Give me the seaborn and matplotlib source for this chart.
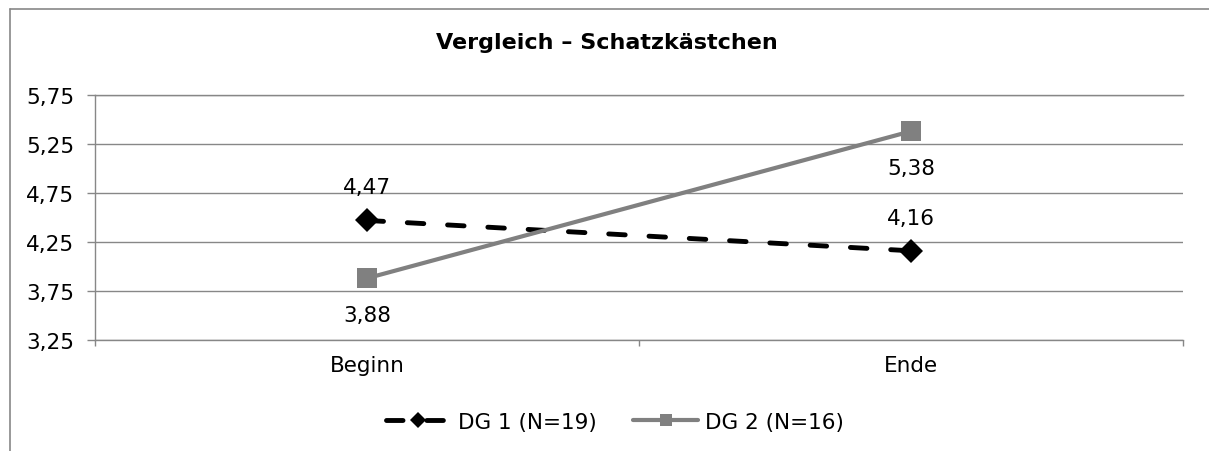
import matplotlib
matplotlib.use("Agg")
import matplotlib.pyplot as plt
from matplotlib.lines import Line2D
import pandas as pd
import seaborn as sns

# --- data -------------------------------------------------------------
categories = ["Beginn", "Ende"]
dg1_values = [4.47, 4.16]
dg2_values = [3.88, 5.38]
series_names = ["DG 1 (N=19)", "DG 2 (N=16)"]
y_ticks = [3.25, 3.75, 4.25, 4.75, 5.25, 5.75]
y_tick_labels = ["3,25", "3,75", "4,25", "4,75", "5,25", "5,75"]
title = "Vergleich \u2013 Schatzk\u00e4stchen"

# --- style ------------------------------------------------------------
sns.set_style("white")
plt.rcParams["font.family"] = ["DejaVu Sans"]
plt.rcParams["text.color"] = "black"
FS = 15.5
GRID = "#878787"
GREY = "#808080"

W, H = 1209, 452
fig = plt.figure(figsize=(W / 100, H / 100), dpi=100)
ax = fig.add_axes([95 / W, (H - 341) / H, (1183 - 95) / W, (341 - 96) / H])

df1 = pd.DataFrame({"Zeitpunkt": categories, "Wert": dg1_values})
df2 = pd.DataFrame({"Zeitpunkt": categories, "Wert": dg2_values})

sns.lineplot(data=df1, x="Zeitpunkt", y="Wert", ax=ax, color="black",
             linewidth=3.5, marker="D", markersize=12.7, markeredgewidth=0,
             label=series_names[0], zorder=3)
sns.lineplot(data=df2, x="Zeitpunkt", y="Wert", ax=ax, color=GREY,
             linewidth=3.0, marker="s", markersize=14, markeredgewidth=0,
             label=series_names[1], zorder=4)

# long-dash pattern for DG 1 (on/off in multiples of the line width)
dash_line = ax.lines[0]
dash_line.set_linestyle((0, (3.4, 4.9)))
dash_line.set_dash_capstyle("round")

handles, labels = ax.get_legend_handles_labels()
if ax.get_legend() is not None:
    ax.get_legend().remove()

# --- axes -------------------------------------------------------------
ax.set_xlim(-0.5, len(categories) - 0.5)
ax.set_ylim(y_ticks[0], y_ticks[-1])
ax.set_xlabel("")
ax.set_ylabel("")
ax.set_yticks(y_ticks, labels=y_tick_labels)
ax.set_xticks(range(len(categories)), labels=categories)
ax.set_xticks([-0.5, 0.5, 1.5], minor=True)

ax.yaxis.grid(True, color=GRID, linewidth=1.0)
ax.xaxis.grid(False)
ax.set_axisbelow(True)
for side in ["top", "bottom", "left"]:
    ax.spines[side].set_visible(True)
    ax.spines[side].set_color(GRID)
    ax.spines[side].set_linewidth(1.0)
ax.spines["right"].set_visible(False)

ax.tick_params(axis="y", left=True, length=5.5, width=1.0, color=GRID,
               direction="out", pad=9.4, labelsize=FS, labelcolor="black")
ax.tick_params(axis="x", which="major", length=0, pad=11, labelsize=FS,
               labelcolor="black")
ax.tick_params(axis="x", which="minor", bottom=True, length=4.5, width=1.0,
               color=GRID, direction="out")


def fmt(v):
    return f"{v:.2f}".replace(".", ",")


# value labels: DG 1 above its markers, DG 2 below
for i, v in enumerate(dg1_values):
    ax.annotate(fmt(v), (i, v), xytext=(0, 19.4), textcoords="offset points",
                ha="center", va="baseline", fontsize=FS, color="black")
for i, v in enumerate(dg2_values):
    ax.annotate(fmt(v), (i, v), xytext=(0, -31), textcoords="offset points",
                ha="center", va="baseline", fontsize=FS, color="black")

# --- title, legend, frame --------------------------------------------
fig.text(607 / W, 1 - 49 / H, title, ha="center", va="baseline",
         fontsize=16, fontweight="bold", color="black")

leg = fig.legend(handles, labels, loc="center", bbox_to_anchor=(615 / W, 29 / H),
                 ncol=2, frameon=False, fontsize=FS, handlelength=3.0,
                 handletextpad=0.35, columnspacing=1.7, labelcolor="black")
leg.legend_handles[0].set_markersize(8.0)
leg.legend_handles[1].set_markersize(8.8)

fig.add_artist(Line2D([10 / W, 10 / W], [0, 1 - 10 / H],
                      transform=fig.transFigure, color=GRID, linewidth=1.2))
fig.add_artist(Line2D([10 / W, 1], [1 - 10 / H, 1 - 10 / H],
                      transform=fig.transFigure, color=GRID, linewidth=1.2))

fig.savefig("out.png", dpi=100)
